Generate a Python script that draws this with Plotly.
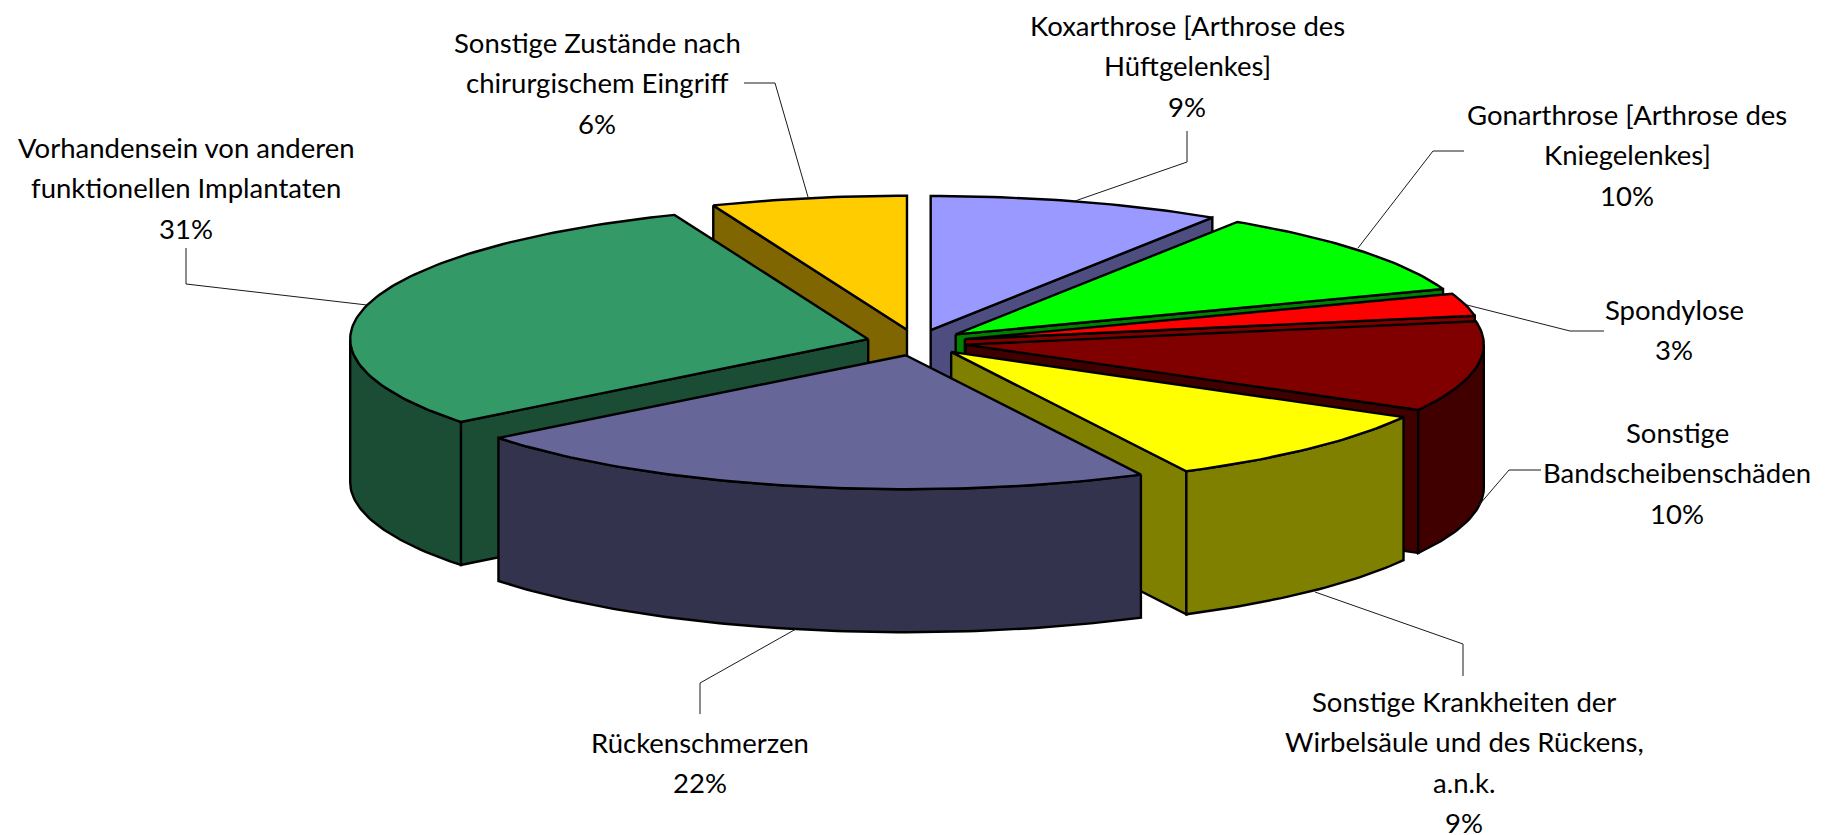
import math
import plotly.graph_objects as go

# ---- data ----
categories = [
    ["Koxarthrose [Arthrose des", "Hüftgelenkes]"],
    ["Gonarthrose [Arthrose des", "Kniegelenkes]"],
    ["Spondylose"],
    ["Sonstige", "Bandscheibenschäden"],
    ["Sonstige Krankheiten der", "Wirbelsäule und des Rückens,", "a.n.k."],
    ["Rückenschmerzen"],
    ["Vorhandensein von anderen", "funktionellen Implantaten"],
    ["Sonstige Zustände nach", "chirurgischem Eingriff"],
]
percent_labels = ["9%", "10%", "3%", "10%", "9%", "22%", "31%", "6%"]
# slice sizes as they are drawn in the picture (read from the slice corners)
drawn_shares = [9.15, 10.35, 2.7, 10.9, 9.4, 21.9, 29.5, 6.1]

# ---- styling ----
top_colors = ["#9999FF", "#00FF00", "#FF0000", "#800000", "#FFFF00", "#666699", "#339966", "#FFCC00"]
side_colors = ["#4D4D80", "#008000", "#800000", "#400000", "#808000", "#33334D", "#1A4D33", "#806600"]
draw_order = [0, 7, 1, 2, 3, 4, 6, 5]

# ---- projection of the pie ----
CX, CY = 916.5, 342.5
RX, RY = 518.0, 134.0
EX, EY = 50.0, 13.0
DEPTH = 143.0
EDGE = 2.4
FONT = "Lato"
FONT_SIZE = 27.5
LINE_STEP = 40.5

label_pos = [(1187, 25), (1627, 114), (1674, 309), (1677, 432),
             (1464, 701), (700, 742), (186, 147), (597, 42)]
leaders = [
    [(1075, 201), (1187, 162), (1187, 131)],
    [(1358, 248), (1433, 151), (1464, 151)],
    [(1467, 305), (1570, 331), (1604, 331)],
    [(1479, 505), (1509, 470), (1541, 470)],
    [(1315, 592), (1463, 644), (1463, 676)],
    [(796, 629), (700, 683), (700, 714)],
    [(367, 305), (186, 284), (186, 248)],
    [(808, 197), (775, 83), (744, 83)],
]

total = sum(drawn_shares)
fig = go.Figure()


def poly(xs, ys, color):
    fig.add_trace(go.Scatter(
        x=xs + xs[:1], y=ys + ys[:1], mode="lines", fill="toself",
        fillcolor=color, line=dict(color="#000000", width=EDGE, shape="linear"),
        hoverinfo="skip", showlegend=False))


cum = [sum(drawn_shares[:i]) for i in range(len(drawn_shares) + 1)]
for i in draw_order:
    t0 = math.radians(cum[i] / total * 360)
    t1 = math.radians(cum[i + 1] / total * 360)
    tm = (t0 + t1) / 2
    ax = CX + EX * math.sin(tm)
    ay = CY - EY * math.cos(tm)

    def rim(t):
        return ax + RX * math.sin(t), ay - RY * math.cos(t)

    # radial walls facing the viewer
    for t, visible in ((t0, math.sin(t0) < -1e-9), (t1, math.sin(t1) > 1e-9)):
        if visible:
            px, py = rim(t)
            poly([ax, px, px, ax], [ay, py, py + DEPTH, ay + DEPTH], side_colors[i])
    # outer wall
    lo, hi = max(t0, math.pi / 2), min(t1, 3 * math.pi / 2)
    if hi > lo:
        n = max(2, int((hi - lo) * 60))
        arc = [rim(lo + (hi - lo) * k / n) for k in range(n + 1)]
        poly([p[0] for p in arc] + [p[0] for p in reversed(arc)],
             [p[1] for p in arc] + [p[1] + DEPTH for p in reversed(arc)], side_colors[i])
    # top face
    n = max(2, int((t1 - t0) * 60))
    arc = [rim(t0 + (t1 - t0) * k / n) for k in range(n + 1)]
    poly([ax] + [p[0] for p in arc], [ay] + [p[1] for p in arc], top_colors[i])

for path in leaders:
    fig.add_trace(go.Scatter(
        x=[p[0] for p in path], y=[p[1] for p in path], mode="lines",
        line=dict(color="#1a1a1a", width=1), hoverinfo="skip", showlegend=False))

annotations = []
for cat, pct, (lx, ly) in zip(categories, percent_labels, label_pos):
    for k, line in enumerate(cat + [pct]):
        annotations.append(dict(
            x=lx, y=ly + k * LINE_STEP, text=line, showarrow=False,
            xanchor="center", yanchor="middle", xref="x", yref="y",
            font=dict(family=FONT, size=FONT_SIZE, color="#000000")))

fig.update_layout(
    width=1833, height=835, margin=dict(l=0, r=0, t=0, b=0),
    paper_bgcolor="#FFFFFF", plot_bgcolor="#FFFFFF", showlegend=False,
    xaxis=dict(range=[0, 1833], visible=False, fixedrange=True),
    yaxis=dict(range=[835, 0], visible=False, fixedrange=True),
    annotations=annotations)

fig.write_html("out.html", post_script="document.body.style.margin='0';",
               config={"displayModeBar": False})
